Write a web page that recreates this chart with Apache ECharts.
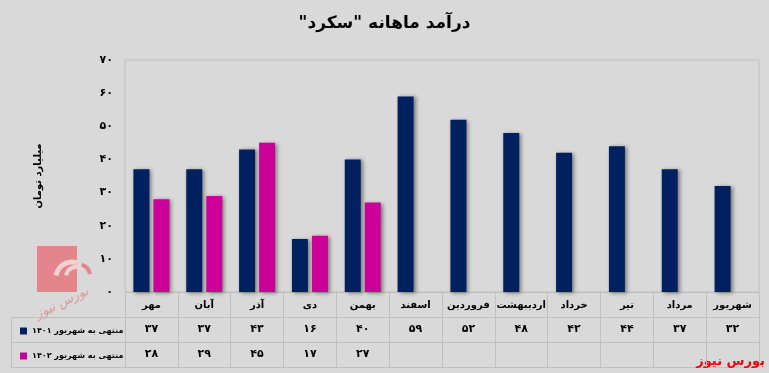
<!DOCTYPE html>
<html>
<head>
<meta charset="utf-8">
<script src="https://cdn.jsdelivr.net/npm/echarts@6/dist/echarts.min.js"></script>
<style>
html,body{margin:0;padding:0;background:#d9d9d9;}
#c{width:769px;height:373px;}
</style>
</head>
<body>
<div id="c"></div>
<script>
const categories = ['مهر','آبان','آذر','دی','بهمن','اسفند','فروردین','اردیبهشت','خرداد','تیر','مرداد','شهریور'];
const series1401 = [37,37,43,16,40,59,52,48,42,44,37,32];
const series1402 = [28,29,45,17,27,null,null,null,null,null,null,null];
const seriesNames = ['منتهی به شهریور ۱۴۰۱','منتهی به شهریور ۱۴۰۲'];
const titleText = 'درآمد ماهانه "سکرد"\u200F';
const yAxisName = 'میلیارد تومان';
const brandText = 'بورس نیوز';

const FONT = 'DejaVu Sans';
function fa(n){
  if(n===null||n===undefined) return '';
  return String(n).replace(/\d/g, d => '۰۱۲۳۴۵۶۷۸۹'[+d]);
}
const chart = echarts.init(document.getElementById('c'), null, {renderer:'canvas'});
const lineColor = '#bfbfbf';
const barShadow = {shadowBlur:4, shadowColor:'rgba(0,0,0,0.45)', shadowOffsetX:2, shadowOffsetY:1};
const rowAxis = (offset, arr) => ({
  type:'category', data:categories, position:'bottom', offset:offset, gridIndex:0,
  axisLine:{show:false}, axisTick:{show:false},
  axisLabel:{interval:0, margin:7, fontFamily:FONT, fontWeight:'bold', fontSize:11, color:'#000', verticalAlign:'top',
    formatter:(v,i)=>fa(arr[i])}
});
chart.setOption({
  backgroundColor:'#d9d9d9',
  animation:false,
  title:{text:titleText, left:'center', top:10, textStyle:{fontFamily:FONT, fontWeight:'bold', fontSize:17, color:'#000'}},
  grid:{left:125, right:10, top:60, bottom:81, show:true, borderColor:lineColor, borderWidth:1, backgroundColor:'transparent'},
  legend:{orient:'vertical', left:15, top:320, itemWidth:7, itemHeight:7, itemGap:13, icon:'rect',
    itemStyle:{shadowBlur:0, shadowOffsetX:0, shadowOffsetY:0},
    textStyle:{fontFamily:FONT, fontWeight:'bold', fontSize:8, color:'#000', lineHeight:12},
    data:seriesNames},
  xAxis:[
    {type:'category', data:categories, position:'bottom', gridIndex:0,
      axisLine:{show:true, lineStyle:{color:lineColor}},
      axisTick:{show:true, length:75, lineStyle:{color:lineColor}},
      axisLabel:{interval:0, margin:8, fontFamily:FONT, fontWeight:'bold', fontSize:10, color:'#000', verticalAlign:'top'}},
    rowAxis(25, series1401),
    rowAxis(50, series1402)
  ],
  yAxis:{type:'value', min:0, max:70, interval:10,
    name:yAxisName, nameLocation:'middle', nameRotate:90, nameGap:82,
    nameTextStyle:{fontFamily:FONT, fontWeight:'bold', fontSize:10, color:'#000'},
    axisLine:{show:false}, axisTick:{show:false}, splitLine:{show:false},
    axisLabel:{margin:12, fontFamily:FONT, fontWeight:'bold', fontSize:11, color:'#000', formatter:v=>fa(v)}},
  series:[
    {name:seriesNames[0], type:'bar', data:series1401, barWidth:16, barGap:'25%',
      itemStyle:Object.assign({color:'#002060'}, barShadow)},
    {name:seriesNames[1], type:'bar', data:series1402, barWidth:16, barGap:'25%',
      itemStyle:Object.assign({color:'#cc0099'}, barShadow)}
  ],
  graphic:[
    {type:'line', shape:{x1:11, y1:317.5, x2:759, y2:317.5}, style:{stroke:lineColor, lineWidth:1}},
    {type:'line', shape:{x1:11, y1:342.5, x2:759, y2:342.5}, style:{stroke:lineColor, lineWidth:1}},
    {type:'line', shape:{x1:11, y1:367.5, x2:759, y2:367.5}, style:{stroke:lineColor, lineWidth:1}},
    {type:'line', shape:{x1:11.5, y1:317, x2:11.5, y2:368}, style:{stroke:lineColor, lineWidth:1}},
    {type:'group', z:-1, children:[
      {type:'rect', shape:{x:37, y:246, width:40, height:46}, style:{fill:'#e4858b'}},
      {type:'arc', shape:{cx:72, cy:278, r:16, startAngle:Math.PI*1.05, endAngle:Math.PI*1.6}, style:{stroke:'#f2d0d2', lineWidth:5, fill:null}},
      {type:'arc', shape:{cx:76, cy:277, r:10, startAngle:Math.PI*1.05, endAngle:Math.PI*1.7}, style:{stroke:'#f2d0d2', lineWidth:4, fill:null}},
      {type:'arc', shape:{cx:78, cy:276, r:12, startAngle:Math.PI*1.6, endAngle:Math.PI*1.95}, style:{stroke:'#e4858b', lineWidth:4, fill:null}},
      {type:'text', x:62, y:303, rotation:0.45, style:{text:brandText, fill:'#e4858b', font:'italic 13px '+FONT, align:'center', verticalAlign:'middle', opacity:0.8}}
    ]},
    {type:'text', right:4, top:355, style:{text:brandText, fill:'#ff0000', font:'bold 13px '+FONT}}
  ]
});
</script>
</body>
</html>
